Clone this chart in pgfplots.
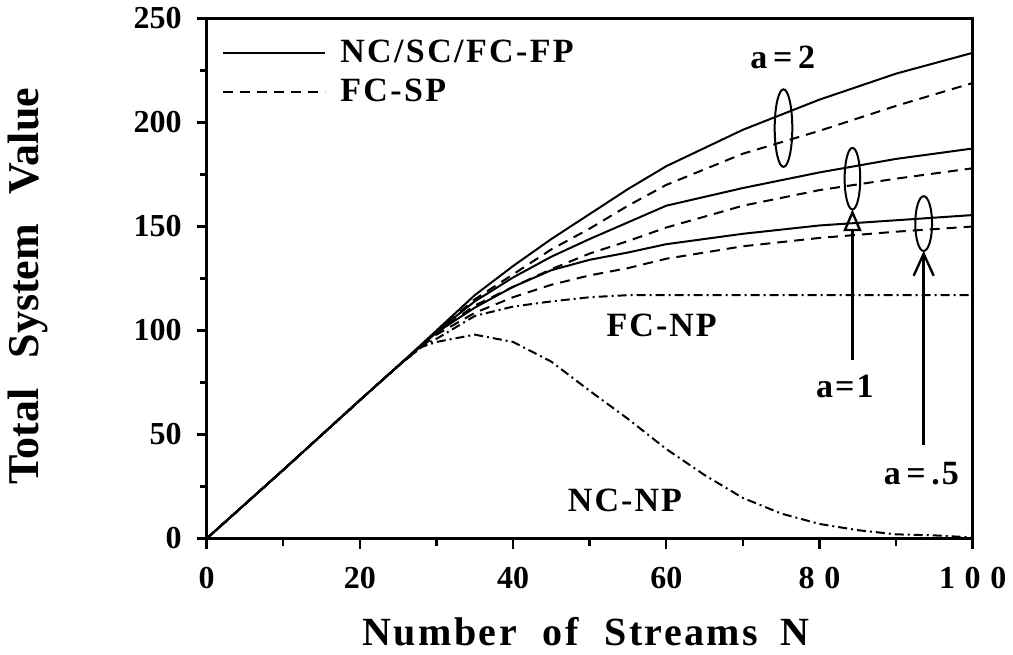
\documentclass[border=0pt]{standalone}
\usepackage{fontspec}
\setmainfont{Liberation Serif}
\usepackage{pgfplots}
\pgfplotsset{compat=1.18}
\usetikzlibrary{arrows.meta}

\pgfplotstableread{
N S2 D2 S1 D1 S5 D5
0 0 0 0 0 0 0
10 33 33 33 33 33 33
20 66.5 66.5 66.5 66.5 66.5 66.5
25 83 83 83 83 83 83
30 100 99.5 99.5 99 99 98
35 117 115 114 112 111 108.5
40 131 127 125.5 121 121 116
45 144 139 135.5 129.5 129 122
50 156 149 144 137 134 126.5
55 168 160 152 143 137.5 130
60 179 170 160 149.5 141.5 134.5
70 196.5 185 168.5 160 146.5 140.5
80 211 196 176 167.5 150.5 144.5
90 223.5 208 182.5 173 153 147.5
100 233.5 219 187.5 178 155.5 150
}\curves

\pgfplotstableread{
N V
0 0
10 33
20 66.5
25 83
28 92
30 96
35 107
40 111.5
45 114
50 116
55 117
60 117
70 117
80 117
90 117
100 117
}\fcnp

\pgfplotstableread{
N V
0 0
10 33
20 66.5
25 83
28 92
30 94.5
35 98
40 94.5
45 85
50 71
55 57.5
60 43
65 30.5
70 19.5
75 12
80 7
85 4
90 2
95 1.5
100 0.5
}\ncnp

\begin{document}
\begin{tikzpicture}[lbl/.style={font=\fontsize{17}{20}\selectfont\bfseries\addfontfeature{LetterSpace=6}}]
\begin{axis}[
  at={(0,0)}, anchor=south west,
  scale only axis, width=383pt, height=260pt,
  xmin=0, xmax=100, ymin=0, ymax=250,
  xtick={0,20,40,60,80,100},
  xticklabels={0,20,40,60,8\hspace{0.3em}0,1\hspace{0.3em}0\hspace{0.3em}0},
  minor xtick={10,30,50,70,90},
  ytick={0,50,100,150,200,250},
  minor ytick={25,75,125,175,225},
  tick align=outside, xtick pos=bottom, ytick pos=left,
  major tick length=5pt, minor tick length=3.5pt,
  every tick/.style={black, line width=1.2pt},
  axis line style={line width=1.5pt},
  tick label style={font=\fontsize{16}{19}\selectfont\bfseries},
  xticklabel style={yshift=-6pt},
  yticklabel style={xshift=-4pt},
  /pgf/number format/assume math mode=true,
  xlabel={Number\hspace{13pt}of\hspace{13pt}Streams\hspace{11pt}N},
  ylabel={Total\hspace{15pt}System\hspace{15pt}Value},
  every axis x label/.style={at={(axis description cs:0.495,-0.18)}, anchor=center, font=\fontsize{20}{24}\selectfont\bfseries\addfontfeature{LetterSpace=6}},
  every axis y label/.style={at={(axis description cs:-0.233,0.485)}, anchor=center, rotate=90, font=\fontsize{22}{26}\selectfont\bfseries},
  legend style={draw=none, fill=none, at={(axis description cs:0.012,0.975)}, anchor=north west,
    font=\fontsize{17}{20}\selectfont\bfseries\addfontfeature{LetterSpace=7}, row sep=3pt,
    /tikz/every odd column/.style={column sep=5pt}},
  legend image code/.code={\draw[#1] (0pt,0pt) -- (51pt,0pt);},
  legend cell align=left,
]
\addplot[black, line width=1pt] table[x=N, y=S2] {\curves};
\addlegendentry{NC/SC/FC-FP}
\addplot[black, line width=1pt, dash pattern=on 5pt off 3.5pt] table[x=N, y=D2] {\curves};
\addlegendentry{FC-SP}
\addplot[black, line width=1pt, forget plot] table[x=N, y=S1] {\curves};
\addplot[black, line width=1pt, dash pattern=on 5pt off 3.5pt, forget plot] table[x=N, y=D1] {\curves};
\addplot[black, line width=1pt, forget plot] table[x=N, y=S5] {\curves};
\addplot[black, line width=1pt, dash pattern=on 5pt off 3.5pt, forget plot] table[x=N, y=D5] {\curves};
\addplot[black, line width=1pt, dash pattern=on 4.5pt off 2pt on 1pt off 2pt, forget plot] table[x=N, y=V] {\fcnp};
\addplot[black, line width=1pt, dash pattern=on 4.5pt off 2pt on 1pt off 2pt, forget plot] table[x=N, y=V] {\ncnp};

\draw[line width=1pt] (axis cs:75.3,197.3) ellipse [x radius=4.4pt, y radius=19.4pt];
\draw[line width=1pt] (axis cs:84.3,173) ellipse [x radius=3.9pt, y radius=15.4pt];
\draw[line width=1pt] (axis cs:93.6,151.4) ellipse [x radius=4.2pt, y radius=13.7pt];

\draw[line width=1.2pt, -{Triangle[open, length=11pt, width=9pt, line width=1.2pt]}] (axis cs:84.3,86) -- (axis cs:84.3,158.3);
\draw[line width=1.2pt, -{Straight Barb[length=11pt, width=10pt, line width=1.2pt]}] (axis cs:93.6,44.9) -- (axis cs:93.6,138.3);

\node[lbl] at (axis cs:75.2,231.1) {a\,=\,2};
\node[lbl] at (axis cs:83.3,72.9) {a=1};
\node[lbl] at (axis cs:93.3,31.3) {a\,=\,.5};
\node[lbl] at (axis cs:59.4,102.5) {FC-NP};
\node[lbl] at (axis cs:54.6,18.2) {NC-NP};
\end{axis}
\pgfresetboundingbox
\path (-103.35pt,-57.75pt) rectangle (403.15pt,269.25pt);
\end{tikzpicture}
\end{document}
